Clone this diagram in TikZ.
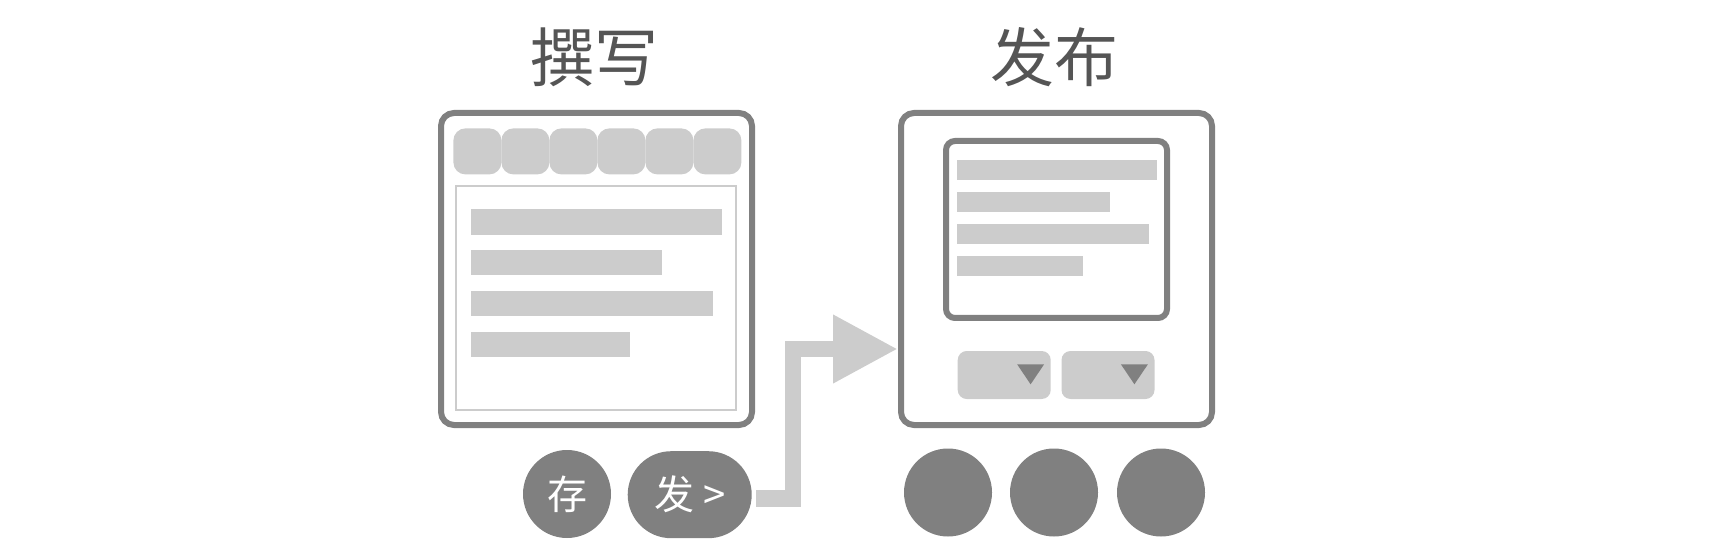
\documentclass[tikz,border=0pt]{standalone}
\usepackage{fontspec}
\newfontfamily\cjk{Noto Sans CJK SC}
\definecolor{frameGray}{HTML}{808080}
\definecolor{barGray}{HTML}{CCCCCC}
\definecolor{headGray}{HTML}{555555}
\usetikzlibrary{arrows.meta}

\begin{document}
\begin{tikzpicture}[x=0.5pt, y=-0.5pt,
      head/.style={text=headGray, font=\cjk\fontsize{32pt}{32pt}\selectfont, inner sep=0pt},
      frame/.style={draw=frameGray, line width=3pt, rounded corners=6.5pt, minimum width=155.5pt, minimum height=156pt, inner sep=0pt},
      tab/.style={fill=barGray, rounded corners=6pt, minimum width=24pt, minimum height=23pt, inner sep=0pt, anchor=north west},
      bar/.style={fill=barGray, inner sep=0pt, anchor=north west},
      drop/.style={fill=barGray, rounded corners=4.5pt, minimum width=46.5pt, minimum height=24pt, inner sep=0pt},
      dot/.style={circle, fill=frameGray, minimum size=44pt, inner sep=0pt, text=white, font=\cjk\fontsize{20pt}{20pt}\selectfont},
      pill/.style={fill=frameGray, rounded corners=21.75pt, minimum width=62pt, minimum height=43.5pt, inner sep=0pt, text=white, font=\cjk\fontsize{20pt}{20pt}\selectfont},
      flow/.style={-{Triangle[length=32.5pt, width=32pt]}, line width=8.25pt, barGray}]
    \useasboundingbox (0,0) rectangle (1732,550);
    \node[head] (writehead) at (594.7,57) {撰写};
    \node[head] (pubhead) at (1054,57) {发布};
    \node[frame] (writeframe) at (596.5,269) {};
    \node[frame] (pubframe) at (1056.5,269) {};
    \foreach \i in {0,...,5}
      \node[tab] (tab\i) at ({453+48*\i},128) {};
    \node[draw=barGray, line width=1pt, minimum width=140pt, minimum height=112pt, inner sep=0pt] (editor) at (596,298) {};
    \foreach \w [count=\i] in {125.4,95.5,121,79.5}
      \node[bar, minimum width=\w pt, minimum height=12.7pt] (wline\i) at (470.6,{208.8+40.9*(\i-1)}) {};
    \node[frame, rounded corners=4.5pt, minimum width=110.5pt, minimum height=88.5pt] (preview) at (1056.5,229.5) {};
    \foreach \w [count=\i] in {99.7,76.2,96.1,63}
      \node[bar, minimum width=\w pt, minimum height=10pt] (pline\i) at (956.7,{160+32*(\i-1)}) {};
    \node[drop] (drop1) at (1004.2,375) {};
    \node[drop] (drop2) at (1108,375) {};
    \fill[frameGray] (drop1.east) ++(-34,-10.7) -- ++(27,0) -- ++(-13.5,20) -- cycle;
    \fill[frameGray] (drop2.east) ++(-34,-10.7) -- ++(27,0) -- ++(-13.5,20) -- cycle;
    \node[dot] (save) at (567,494) {存};
    \node[pill] (send) at (689.7,494.7) {发 >};
    \node[dot] (pub1) at (948,492.5) {};
    \node[dot] (pub2) at (1054,492.5) {};
    \node[dot] (pub3) at (1161,492.5) {};
    \coordinate (flowstart) at (756,498.5);
    \coordinate (flowbend) at (793,349);
    \draw[flow] (flowstart) -| (flowbend) -- (flowbend -| pubframe.west);
  \end{tikzpicture}
\end{document}
